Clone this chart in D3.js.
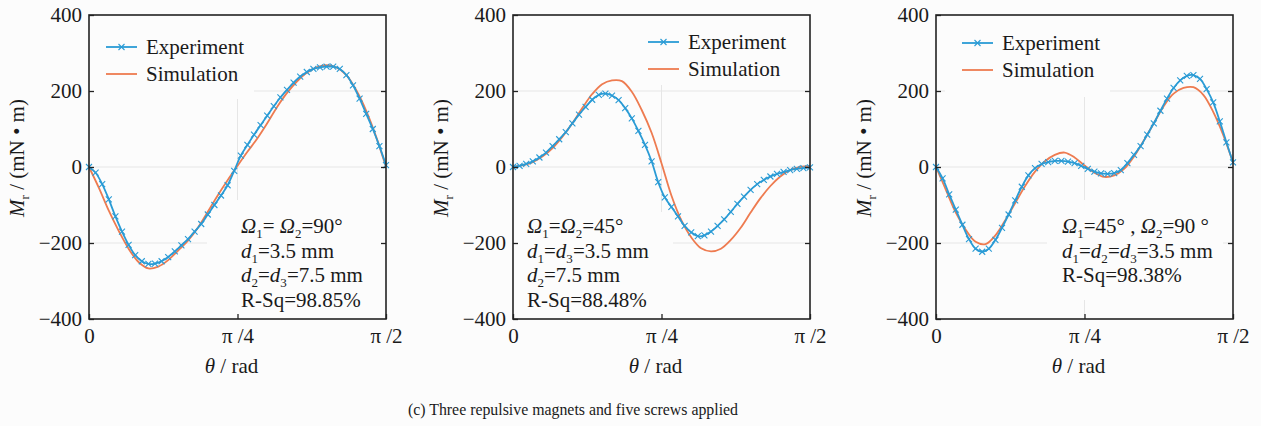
<!DOCTYPE html>
<html>
<head>
<meta charset="utf-8">
<script src="https://cdn.jsdelivr.net/npm/d3@7"></script>
<style>
  body { margin: 0; background: #fcfcfc; }
  svg text { font-family: "Liberation Serif", "Tinos", "DejaVu Serif", "Times New Roman", serif !important; fill: #1a1a1a; }
</style>
</head>
<body>
<svg id="chart" width="1261" height="426"></svg>
<script>
// angles in degrees (0 .. 90 = 0 .. pi/2)
const expAngle = [0,2,4,6,8,10,12,14,16,18,20,22,24,26,28,30,32,34,36,38,40,42,44,46,48,50,52,54,56,58,60,62,64,66,68,70,72,74,76,78,80,82,84,86,88,90]
const simAngle = [0,3,6,9,12,15,18,21,24,27,30,33,36,39,42,45,48,51,54,57,60,63,66,69,72,75,78,81,84,87,90]

const exp1 = [0,-15,-45,-85,-130,-170,-205,-232,-248,-255,-254,-248,-237,-222,-206,-190,-170,-150,-125,-100,-75,-48,-10,30,58,85,110,135,160,183,203,222,238,250,258,262,264,264,258,242,215,180,140,100,55,5]
const sim1 = [0,-55,-115,-168,-215,-250,-267,-262,-245,-220,-194,-160,-118,-75,-35,3,40,75,115,158,195,225,248,262,268,262,242,202,148,80,0]

const exp2 = [0,3,8,15,25,38,55,73,92,115,138,158,177,190,193,188,176,155,128,95,58,15,-40,-80,-105,-130,-155,-172,-182,-180,-170,-155,-138,-118,-97,-78,-60,-45,-34,-25,-18,-13,-8,-5,-3,-1]
const sim2 = [0,5,13,28,50,80,115,155,192,218,228,226,198,150,90,10,-75,-140,-185,-214,-222,-215,-192,-160,-120,-82,-50,-25,-8,0,3]

const exp3 = [0,-30,-72,-112,-152,-190,-215,-223,-215,-192,-160,-125,-88,-52,-22,-3,8,13,16,16,14,10,3,-5,-12,-17,-18,-16,-8,10,32,55,85,115,148,180,208,228,240,242,232,205,170,120,65,12]
const sim3 = [0,-60,-120,-165,-197,-203,-180,-140,-95,-50,-12,15,32,38,25,4,-15,-26,-22,-5,28,70,115,160,193,208,210,190,145,85,12]

const yTicks = [-400,-200,0,200,400]
const xTicks = [0,45,90]
const xTickLabels = ["0","π /4","π /2"]
const gridY = [-200,0,200]
const gridX = [45]
const legendNames = ["Experiment","Simulation"]

const notes1 = [
  [["Ω","i"],["1","s"],["= "],["Ω","i"],["2","s"],["=90°"]],
  [["d","i"],["1","s"],["=3.5 mm"]],
  [["d","i"],["2","s"],["="],["d","i"],["3","s"],["=7.5 mm"]],
  [["R-Sq=98.85%"]]
]
const notes2 = [
  [["Ω","i"],["1","s"],["="],["Ω","i"],["2","s"],["=45°"]],
  [["d","i"],["1","s"],["="],["d","i"],["3","s"],["=3.5 mm"]],
  [["d","i"],["2","s"],["=7.5 mm"]],
  [["R-Sq=88.48%"]]
]
const notes3 = [
  [["Ω","i"],["1","s"],["=45° , "],["Ω","i"],["2","s"],["=90 °"]],
  [["d","i"],["1","s"],["="],["d","i"],["2","s"],["="],["d","i"],["3","s"],["=3.5 mm"]],
  [["R-Sq=98.38%"]]
]

const blue = "#2a9bd5"
const orange = "#ee7b50"
const bg = "#fcfcfc"
const serif = '"Liberation Serif", "Tinos", "DejaVu Serif", "Times New Roman", serif'
const fs = 21

const panels = [
  { left: 89, exp: exp1, sim: sim1, notes: notes1, noteX: 241, legX: 106, legY: 47,
    legBox: [89, 15, 165, 84], noteBox: [207, 200, 180, 119] },
  { left: 513, exp: exp2, sim: sim2, notes: notes2, noteX: 527, legX: 648, legY: 42,
    legBox: [640, 15, 169, 70], noteBox: [513, 212, 160, 107] },
  { left: 936, exp: exp3, sim: sim3, notes: notes3, noteX: 1062, legX: 962, legY: 43,
    legBox: [945, 15, 165, 82], noteBox: [1047, 200, 176, 100] }
]

const svg = d3.select("#chart").attr("font-family", serif)
svg.append("rect").attr("width", 1261).attr("height", 426).attr("fill", bg)

const plotTop = 15, plotBottom = 319, plotW = 297
const y = d3.scaleLinear().domain([-400, 400]).range([plotBottom, plotTop])

function richText(g, x, yy, parts, size) {
  const t = g.append("text").attr("x", x).attr("y", yy).attr("font-size", size)
  let shifted = false
  parts.forEach(p => {
    const s = t.append("tspan").text(p[0])
    if (p[1] === "i") s.attr("font-style", "italic")
    if (p[1] === "s") {
      s.attr("font-size", size * 0.62).attr("dy", 5)
      shifted = true
    } else if (shifted) {
      s.attr("dy", -5)
      shifted = false
    }
  })
  return t
}

panels.forEach(p => {
  const x = d3.scaleLinear().domain([0, 90]).range([p.left, p.left + plotW])
  const g = svg.append("g")

  // faint grid
  g.selectAll(".gy").data(gridY).enter().append("line")
    .attr("x1", p.left).attr("x2", p.left + plotW)
    .attr("y1", d => y(d)).attr("y2", d => y(d))
    .attr("stroke", "#e6e6e6").attr("stroke-width", 1)
  g.selectAll(".gx").data(gridX).enter().append("line")
    .attr("x1", d => x(d)).attr("x2", d => x(d))
    .attr("y1", plotTop).attr("y2", plotBottom)
    .attr("stroke", "#e6e6e6").attr("stroke-width", 1)

  // boxes behind legend and notes hide the grid
  g.append("rect").attr("x", p.noteBox[0]).attr("y", p.noteBox[1])
    .attr("width", p.noteBox[2]).attr("height", p.noteBox[3]).attr("fill", bg)
  g.append("rect").attr("x", p.legBox[0]).attr("y", p.legBox[1])
    .attr("width", p.legBox[2]).attr("height", p.legBox[3]).attr("fill", bg)

  // simulation curve
  const simLine = d3.line().x((d, i) => x(simAngle[i])).y(d => y(d)).curve(d3.curveCatmullRom)
  g.append("path").datum(p.sim).attr("d", simLine)
    .attr("fill", "none").attr("stroke", orange).attr("stroke-width", 1.8)

  // experiment curve with x markers
  const expLine = d3.line().x((d, i) => x(expAngle[i])).y(d => y(d)).curve(d3.curveCatmullRom)
  g.append("path").datum(p.exp).attr("d", expLine)
    .attr("fill", "none").attr("stroke", blue).attr("stroke-width", 1.8)
  g.selectAll(".mk").data(p.exp).enter().append("path")
    .attr("transform", (d, i) => `translate(${x(expAngle[i])},${y(d)})`)
    .attr("d", "M-3,-3L3,3M-3,3L3,-3")
    .attr("stroke", blue).attr("stroke-width", 1.1).attr("fill", "none")

  // axes
  g.append("g").attr("transform", `translate(${p.left},0)`)
    .call(d3.axisLeft(y).tickValues(yTicks).tickSize(-5).tickPadding(7)
      .tickFormat(d => d < 0 ? "\u2212" + (-d) : String(d)))
    .attr("font-family", serif).attr("font-size", fs)
    .call(a => a.select(".domain").remove())
  g.append("g").attr("transform", `translate(${p.left + plotW},0)`)
    .call(d3.axisRight(y).tickValues(gridY).tickSize(-5).tickFormat(""))
    .call(a => a.select(".domain").remove())
  g.append("g").attr("transform", `translate(0,${plotBottom})`)
    .call(d3.axisBottom(x).tickValues(xTicks).tickSize(-5).tickPadding(9)
      .tickFormat((d, i) => xTickLabels[i]))
    .attr("font-family", serif).attr("font-size", fs)
    .call(a => a.select(".domain").remove())
  g.selectAll(".tick line").attr("stroke", "#222").attr("stroke-width", 1.3)
  g.selectAll(".tick text").attr("fill", "#1a1a1a")

  g.append("rect").attr("x", p.left).attr("y", plotTop).attr("width", plotW).attr("height", plotBottom - plotTop)
    .attr("fill", "none").attr("stroke", "#222").attr("stroke-width", 1.6)

  // axis titles
  const xt = g.append("text").attr("x", p.left + plotW / 2 - 6).attr("y", 373)
    .attr("text-anchor", "middle").attr("font-size", fs)
  xt.append("tspan").attr("font-style", "italic").text("θ")
  xt.append("tspan").text(" / rad")

  const yt = g.append("text").attr("transform", `translate(${p.left - 65},158) rotate(-90)`)
    .attr("text-anchor", "middle").attr("font-size", fs)
  yt.append("tspan").attr("font-style", "italic").text("M")
  yt.append("tspan").attr("font-size", 13).attr("dy", 5).text("r")
  yt.append("tspan").attr("dy", -5).text(" / (mN • m)")

  // legend
  legendNames.forEach((name, i) => {
    const ly = p.legY + i * 27
    const c = i === 0 ? blue : orange
    g.append("line").attr("x1", p.legX).attr("x2", p.legX + 31)
      .attr("y1", ly).attr("y2", ly).attr("stroke", c).attr("stroke-width", 1.8)
    if (i === 0) {
      g.append("path").attr("transform", `translate(${p.legX + 15.5},${ly})`)
        .attr("d", "M-3,-3L3,3M-3,3L3,-3").attr("stroke", blue).attr("stroke-width", 1.1)
    }
    g.append("text").attr("x", p.legX + 40).attr("y", ly + 6.5).attr("font-size", fs).text(name)
  })

  // annotation
  p.notes.forEach((line, i) => richText(g, p.noteX, 233 + i * 24.7, line, fs))
})

svg.append("text").attr("x", 573).attr("y", 415).attr("text-anchor", "middle")
  .attr("font-size", 17).attr("textLength", 330).attr("lengthAdjust", "spacingAndGlyphs")
  .text("(c) Three repulsive magnets and five screws applied")
</script>
</body>
</html>
